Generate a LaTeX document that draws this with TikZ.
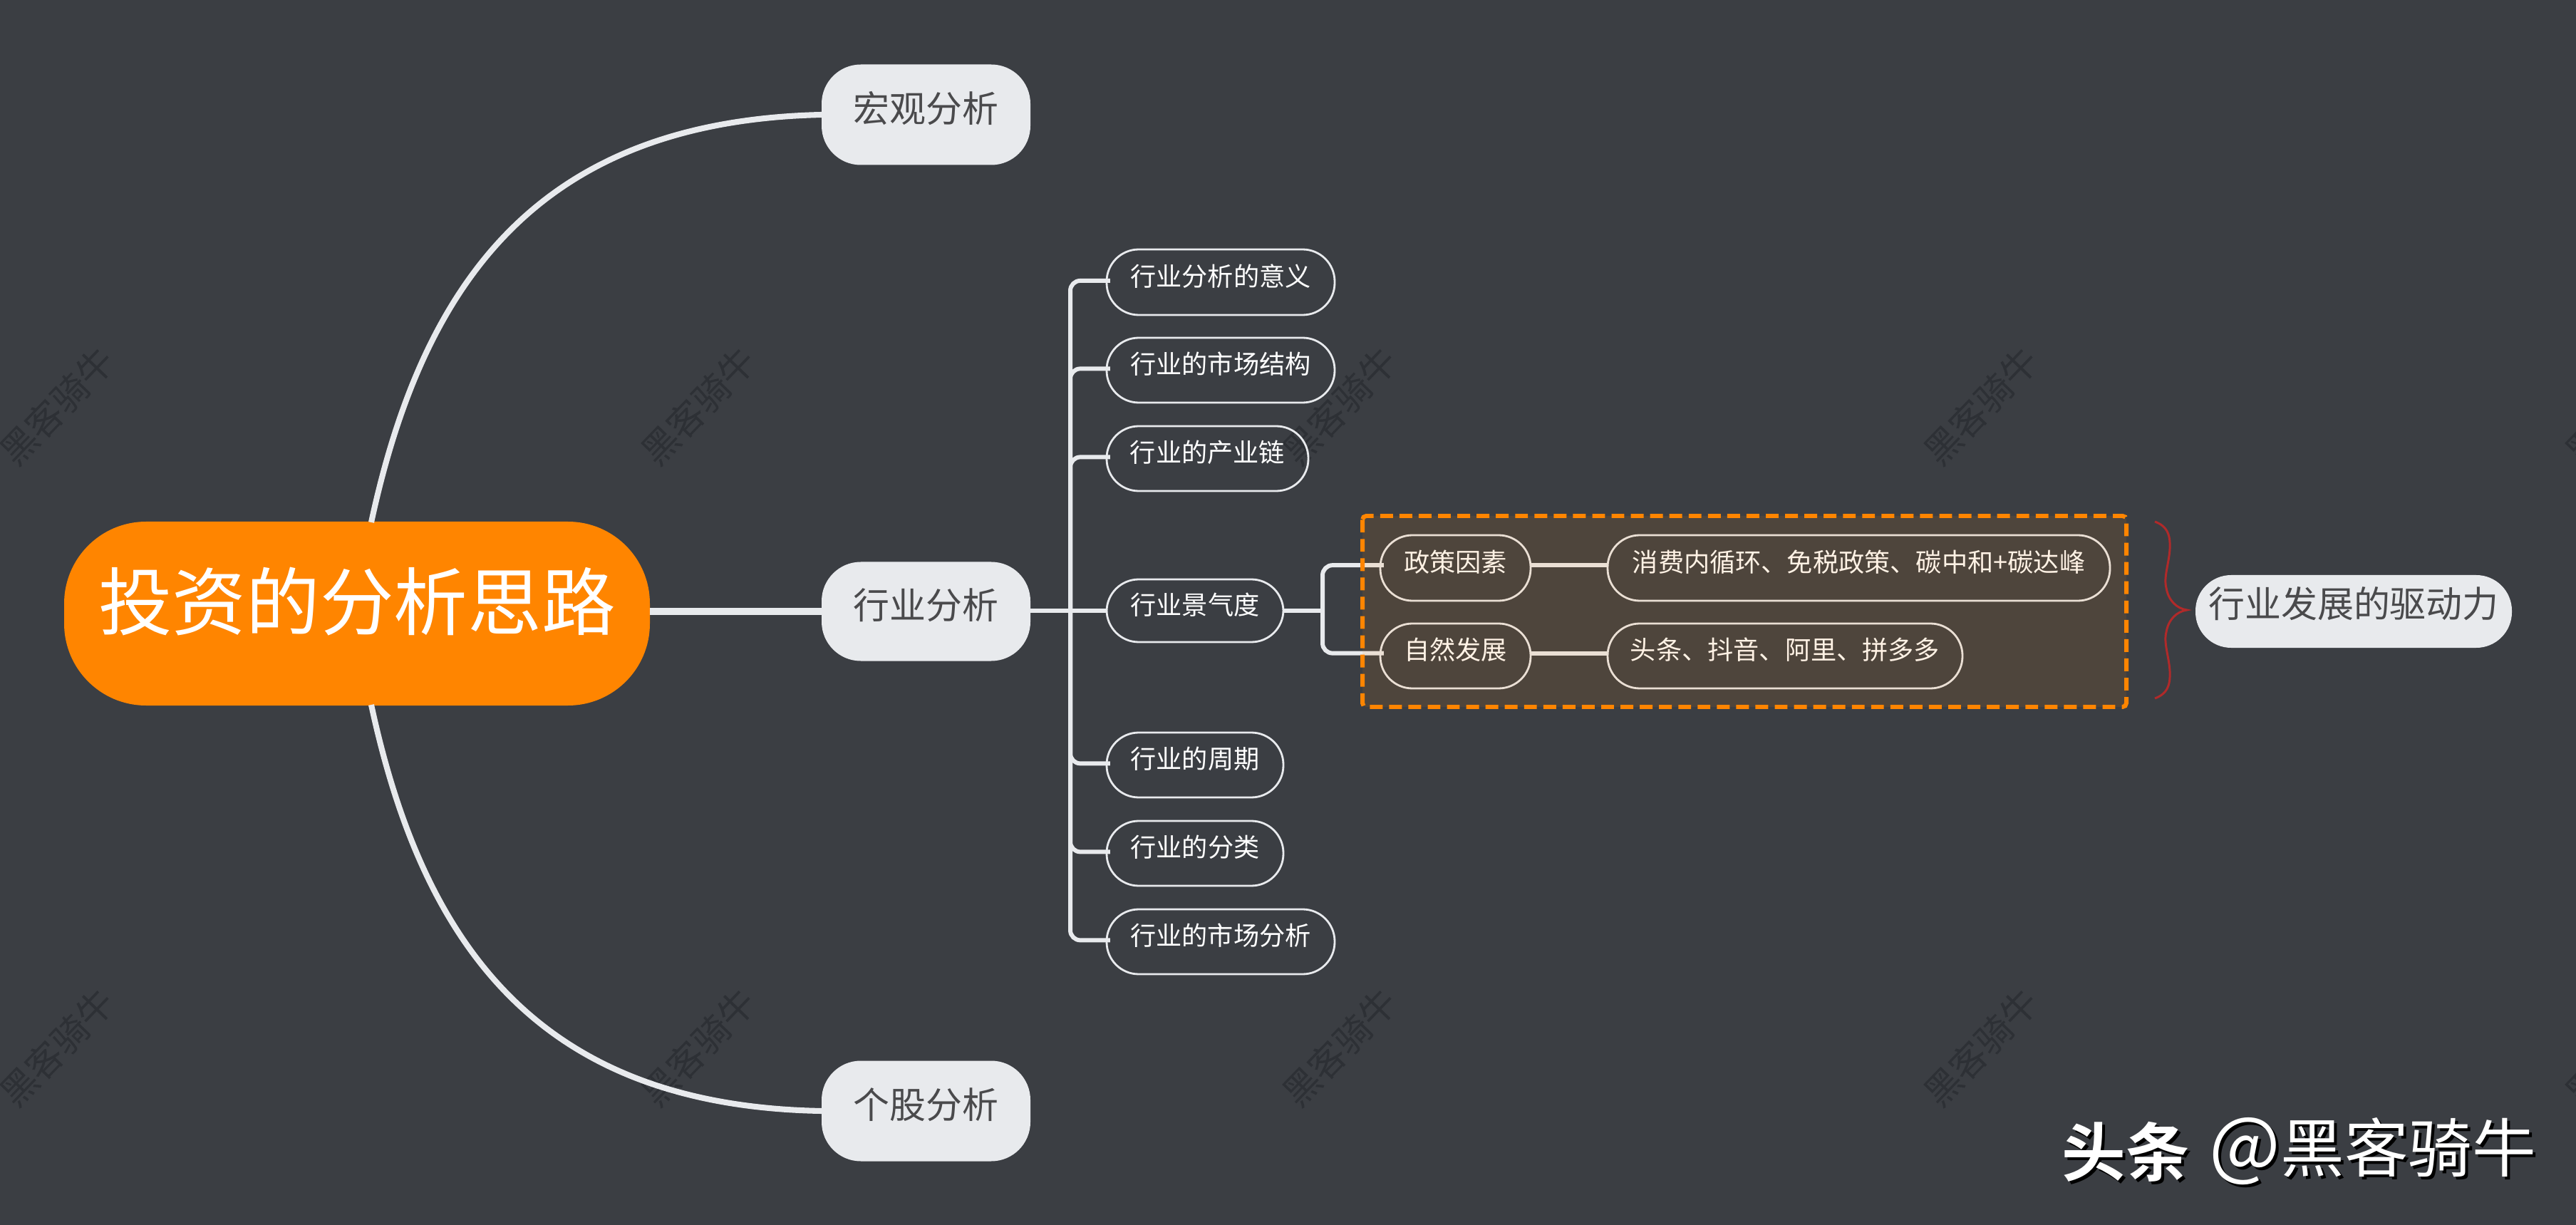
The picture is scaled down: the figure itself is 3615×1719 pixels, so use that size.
\documentclass[tikz,border=0pt]{standalone}
\usepackage{fontspec}
\setmainfont{Noto Sans CJK SC}[BoldFont={Noto Sans CJK SC Bold}]
\definecolor{bgc}{HTML}{3B3E43}
\definecolor{linec}{HTML}{E8EAED}
\definecolor{orangec}{HTML}{FF8500}
\definecolor{darktxt}{HTML}{4A4A4C}
\definecolor{markc}{HTML}{2D3035}
\definecolor{bracec}{HTML}{B02A2A}
\tikzset{
  pw/.style={minimum width=#1*0.02cm},
  ph/.style={minimum height=#1*0.02cm},
  base/.style={rectangle,inner sep=0pt,outer sep=0pt,align=center},
  rootbox/.style={base,fill=orangec,text=white,rounded corners=2.3cm,
    font=\fontsize{59}{62}\selectfont,text height=59pt,text depth=33.6pt},
  topbox/.style={base,fill=linec,text=darktxt,rounded corners=1.1cm,
    font=\fontsize{29}{32}\selectfont,text height=29pt,text depth=17.2pt},
  drivebox/.style={base,fill=linec,text=darktxt,rounded corners=1cm,
    font=\fontsize{29}{32}\selectfont,text height=29pt,text depth=19.5pt},
  leafbox/.style={base,draw=linec,line width=1.6pt,text=white,rounded corners=0.9cm,
    font=\fontsize{20.6}{24}\selectfont,text height=20.6pt,text depth=14.5pt},
  stampmark/.style={base,text=markc,rotate=46,font=\fontsize{29}{32}\selectfont},
  heavy/.style={draw=linec,line width=5.5pt},
  curveline/.style={draw=linec,line width=4.6pt},
  branch/.style={draw=linec,line width=3.4pt,rounded corners=8pt,shorten >=-2.8pt},
  groupbox/.style={base,fill=orangec,fill opacity=.10,rounded corners=3pt},
  groupedge/.style={draw=orangec,line width=3.4pt,dash pattern=on 10.2pt off 5.2pt,rounded corners=3pt},
  bracepath/.style={draw=bracec,line width=1.7pt},
  brandtxt/.style={base,text=white,font=\fontsize{51}{54}\selectfont},
  brandshadow/.style={base,text=black,font=\fontsize{51}{54}\selectfont},
}
\newcommand{\atsign}{{\fontsize{60}{54}\selectfont @}}
\begin{document}
\begin{tikzpicture}[x=0.02cm,y=-0.02cm]
\useasboundingbox (0,0) rectangle (3615,1719);
\fill[bgc] (0,0) rectangle (3615,1719);
\clip (0,0) rectangle (3615,1719);
% watermarks
\foreach \wx/\wn in {80/a,980/b,1880/c,2780/d,3680/e}{
  \node[stampmark] (wm1\wn) at (\wx,570) {黑客骑牛};
  \node[stampmark] (wm2\wn) at (\wx,1470) {黑客骑牛};
}
% nodes
\coordinate (rootTop) at (521,733);
\coordinate (rootBot) at (521,989);
\coordinate (trunk) at (1502,857);
\coordinate (split) at (1856,857);
\node[rootbox,pw=822,ph=258] (root) at (501,861) {投资的分析思路};
\node[topbox,pw=293,ph=141] (macro) at (1299.5,161) {宏观分析};
\node[topbox,pw=293,ph=139] (ind) at (1299.5,858) {行业分析};
\node[topbox,pw=293,ph=141] (stock) at (1299.5,1559) {个股分析};
\node[leafbox,pw=320,ph=92,anchor=west] (la) at (1553,396) {行业分析的意义};
\node[leafbox,pw=320,ph=91,anchor=west] (lb) at (1553,519.5) {行业的市场结构};
\node[leafbox,pw=283,ph=91,anchor=west] (lc) at (1553,643.5) {行业的产业链};
\node[leafbox,pw=248,ph=88,anchor=west] (ld) at (1553,857) {行业景气度};
\node[leafbox,pw=248,ph=91,anchor=west] (le) at (1553,1073.5) {行业的周期};
\node[leafbox,pw=248,ph=91,anchor=west] (lf) at (1553,1197.5) {行业的分类};
\node[leafbox,pw=320,ph=91,anchor=west] (lg) at (1553,1321.5) {行业的市场分析};
\node[leafbox,pw=211,ph=92,anchor=west] (pol) at (1937,797) {政策因素};
\node[leafbox,pw=211,ph=91,anchor=west] (nat) at (1937,920.5) {自然发展};
\node[leafbox,pw=705,ph=92,anchor=west] (poldet) at (2256,797) {消费内循环、免税政策、碳中和+碳达峰};
\node[leafbox,pw=498,ph=91,anchor=west] (natdet) at (2256,920.5) {头条、抖音、阿里、拼多多};
\node[drivebox,pw=444,ph=102] (drive) at (3303,858) {行业发展的驱动力};
% connectors
\draw[curveline] (rootTop) .. controls (595,390) and (760,170) .. (macro.west);
\draw[curveline] (rootBot) .. controls (595,1332) and (760,1552) .. (stock.west);
\draw[heavy] (root.east |- ind.west) -- (ind.west);
\draw[branch,shorten >=0pt] (ind.east |- ld.west) -- (ld.west);
\foreach \n in {la,lb,lc,le,lf,lg}{
  \draw[branch] (trunk) |- ([yshift=1.2pt]\n.west);
}
\draw[branch,shorten >=0pt] (ld.east) -- (split);
\draw[branch] (split) |- ([yshift=2.2pt]pol.west);
\draw[branch] (split) |- ([yshift=2.2pt]nat.west);
\draw[branch,rounded corners=0pt,shorten >=0pt] ([yshift=2.2pt]pol.east) -- ([yshift=2.2pt]poldet.west);
\draw[branch,rounded corners=0pt,shorten >=0pt] ([yshift=2.2pt]nat.east) -- ([yshift=2.2pt]natdet.west);
% translucent group box
\node[groupbox,pw=1072,ph=268] (group) at (2448,858) {};
\draw[groupedge] (group.north west) rectangle (group.south east);
% brace
\coordinate (braceTop) at (3024,732);
\coordinate (braceBot) at (3024,980);
\coordinate (braceTip) at (3069,856);
\draw[bracepath] (braceTop) .. controls (3040,738) and (3046,748) .. (3045,770)
  .. controls (3044,790) and (3036,810) .. (3040,825)
  .. controls (3043,843) and (3055,854) .. (braceTip)
  .. controls (3055,858) and (3043,869) .. (3040,887)
  .. controls (3036,902) and (3044,922) .. (3045,942)
  .. controls (3046,964) and (3040,974) .. (braceBot);
% brand mark
\node[brandshadow,anchor=east] (sh1) at (3077,1620) {\bfseries 头条};
\node[brandshadow,anchor=east] (sh2) at (3563,1620) {\atsign 黑客骑牛};
\node[brandtxt,anchor=east] (br1) at (3073,1616) {\bfseries 头条};
\node[brandtxt,anchor=east] (br2) at (3559,1616) {\atsign 黑客骑牛};
\end{tikzpicture}
\end{document}
